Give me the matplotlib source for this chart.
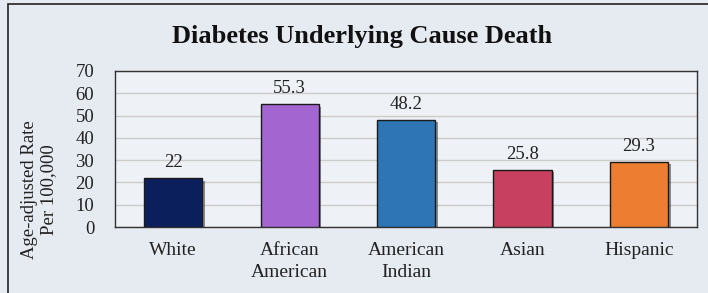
import matplotlib.pyplot as plt
import matplotlib.patheffects as pe
from matplotlib.patches import Rectangle

groups = ["White", "African\nAmerican", "American\nIndian", "Asian", "Hispanic"]
rates = [22, 55.3, 48.2, 25.8, 29.3]
rate_labels = ["22", "55.3", "48.2", "25.8", "29.3"]
colors = ["#0a1f5c", "#a366d1", "#2e75b6", "#c8405f", "#ed7d31"]
yticks = [0, 10, 20, 30, 40, 50, 60, 70]

plt.rcParams["font.family"] = ["Liberation Serif", "DejaVu Serif"]

fig = plt.figure(figsize=(7.08, 2.93), dpi=100)
fig.patch.set_facecolor("#e6eaf1")
# outer frame
fig.patches.append(Rectangle((8 / 708, -0.05), 1.1, 1 - 4 / 293 + 0.05,
                             transform=fig.transFigure, fill=False,
                             edgecolor="#333333", linewidth=1.3))

ax = fig.add_axes([115 / 708, 1 - 227 / 293, 582 / 708, 156 / 293])
ax.set_facecolor("#eef1f6")
x = range(len(groups))
bars = ax.bar(x, rates, width=0.5, color=colors, edgecolor="#1a1a1a",
              linewidth=1.0, zorder=3)
for b in bars:
    b.set_path_effects([pe.SimplePatchShadow(offset=(2, -2), shadow_rgbFace="#222222", alpha=0.5),
                        pe.Normal()])
for b, t in zip(bars, rate_labels):
    ax.annotate(t, (b.get_x() + b.get_width() / 2, b.get_height()),
                xytext=(0, 5), textcoords="offset points",
                ha="center", va="bottom", fontsize=13.5, color="#222222")

ax.set_xlim(-0.5, 4.5)
ax.set_ylim(0, 70)
ax.set_yticks(yticks)
ax.set_xticks(list(x))
ax.set_xticklabels(groups, fontsize=14, linespacing=1.35)
ax.tick_params(axis="both", length=0, colors="#222222")
ax.tick_params(axis="y", labelsize=13.5, pad=15)
ax.tick_params(axis="x", pad=11)
ax.grid(axis="y", color="#cccccc", linewidth=1.0, zorder=0)
for s in ax.spines.values():
    s.set_color("#333333")
    s.set_linewidth(1.0)

fig.text(39 / 708, 1 - 190 / 293, "Age-adjusted Rate\nPer 100,000", rotation=90,
         ha="center", va="center", fontsize=13.5, linespacing=1.15,
         multialignment="center", color="#222222")
fig.text(362 / 708, 1 - 36 / 293, "Diabetes Underlying Cause Death",
         ha="center", va="center", fontsize=19, fontweight="bold", color="#111111")

fig.savefig("out.png", dpi=100, facecolor=fig.get_facecolor())
